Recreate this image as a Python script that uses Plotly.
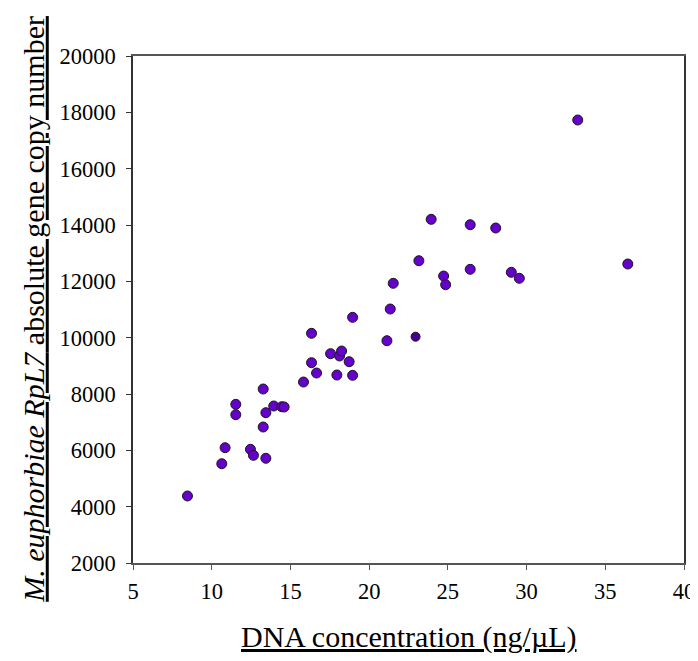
import plotly.graph_objects as go

# DNA concentration (ng/uL) and RpL7 absolute copy number
dna_conc = [21.53, 21.34, 18.95, 16.34, 21.13, 33.25, 23.94, 26.42, 28.04, 23.16,
            36.43, 26.42, 29.03, 29.54, 24.73, 24.86,
            17.55, 18.12, 18.25, 18.73, 16.34, 16.66, 17.95, 18.95, 15.83, 13.27,
            11.53, 13.94, 14.45, 14.60, 11.53, 13.44, 13.27, 10.85, 12.46, 12.65,
            13.44, 10.64, 8.46]
copy_number = [11930, 11017, 10722, 10154, 9892, 17727, 14201, 14010, 13893, 12732,
               12615, 12426, 12320, 12107, 12188, 11880,
               9431, 9349, 9526, 9147, 9111, 8745, 8674, 8663, 8425, 8177,
               7633, 7574, 7548, 7540, 7265, 7336, 6828, 6094, 6036, 5823,
               5717, 5525, 4379]

# highlighted (darker) sample
hl_conc = [22.95]
hl_copy = [10034]

x_ticks = [5, 10, 15, 20, 25, 30, 35, 40]
y_ticks = [2000, 4000, 6000, 8000, 10000, 12000, 14000, 16000, 18000, 20000]
y_ticktext = [str(v) for v in y_ticks]

fig = go.Figure()
fig.add_trace(go.Scatter(
    x=dna_conc, y=copy_number, mode="markers",
    marker=dict(size=10, color="#6600cc", line=dict(color="#1a1a1a", width=1)),
    showlegend=False, cliponaxis=False))
fig.add_trace(go.Scatter(
    x=hl_conc, y=hl_copy, mode="markers",
    marker=dict(size=9, color="#4a0090", line=dict(color="#1a1a1a", width=1)),
    showlegend=False, cliponaxis=False))

font_family = "Liberation Serif"

fig.update_layout(
    width=698, height=661,
    margin=dict(l=125, r=22, t=48, b=106),
    paper_bgcolor="white", plot_bgcolor="white",
    font=dict(family=font_family, size=22, color="black"),
    xaxis=dict(range=[5, 40], tickvals=x_ticks, ticks="outside", ticklen=5,
               tickcolor="#555", showline=True, linecolor="#555", linewidth=1.5,
               mirror=True, showgrid=False, zeroline=False, ticklabelstandoff=2,
               tickfont=dict(family=font_family, size=22.5)),
    yaxis=dict(range=[2000, 20000], tickvals=y_ticks, ticktext=y_ticktext,
               ticks="outside", ticklen=5, ticklabelstandoff=6,
               tickcolor="#333", showline=True, linecolor="#333", linewidth=1.5,
               mirror=True, showgrid=False, zeroline=False,
               tickfont=dict(family=font_family, size=22.5)),
    annotations=[
        dict(text="<u>DNA concentration (ng/µL)</u>", xref="paper", yref="paper",
             x=0.5, y=-0.146, xanchor="center", yanchor="middle", showarrow=False,
             font=dict(family=font_family, size=30, color="black")),
        dict(text="<u><i>M. euphorbiae RpL7</i> absolute gene copy number</u>",
             xref="paper", yref="paper", x=-0.181, y=0.5, textangle=-90,
             xanchor="center", yanchor="middle", showarrow=False,
             font=dict(family=font_family, size=30, color="black")),
    ],
)

fig.write_html("out.html")
